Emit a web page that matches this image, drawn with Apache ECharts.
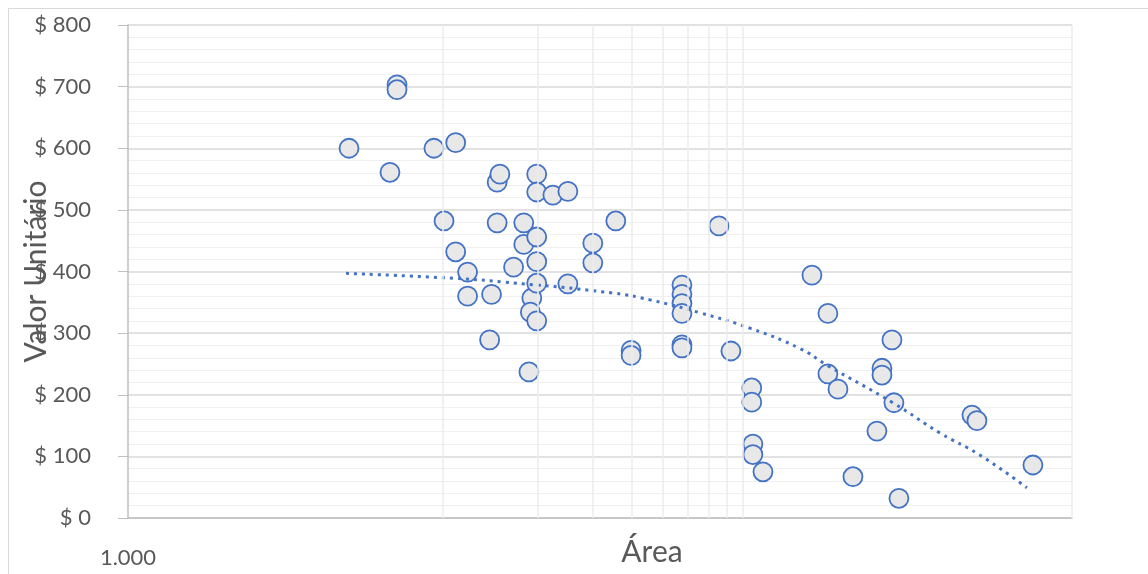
<!DOCTYPE html>
<html style="height: 100%">
<head>
    <meta charset="utf-8">
    <title>Valor Unitário x Área</title>
    <script src="https://cdn.jsdelivr.net/npm/echarts@6/dist/echarts.min.js"></script>
</head>
<body style="height: 100%; margin: 0; background: #fff">
<div id="main" style="width: 1148px; height: 574px"></div>
<script type="text/javascript">
    // pontos observados: área (log) e valor unitário
    var areas = [5040, 6800, 7160, 7160, 9380, 11000, 10100, 11000, 12000, 12000,
        14100, 14300, 14900, 15200, 14900, 16800, 18100, 18100, 18800, 19200,
        19000, 19900, 19900, 19900, 19900, 19900, 19900, 22400, 25000, 25000,
        30000, 30000, 35500, 39700, 39700, 57600, 57600, 57600, 57600, 57600,
        57600, 75500, 82400, 96000, 96000, 96800, 96800, 104200, 149100, 167600,
        167600, 180400, 201300, 239900, 248900, 248900, 267800, 271700, 281800, 480800,
        498700, 751200];
    var valores = [600, 561, 703, 695, 600, 609, 482, 432, 399, 360,
        289, 363, 545, 558, 479, 407, 479, 444, 237, 357,
        334, 558, 529, 456, 416, 381, 320, 524, 530, 380,
        446, 414, 482, 272, 264, 378, 363, 348, 332, 281,
        276, 474, 271, 211, 188, 120, 103, 75, 394, 332,
        234, 209, 67, 141, 243, 232, 289, 187, 32, 167,
        158, 86];

    // linha de tendência
    var trendAreas = [4930, 10780, 15550, 34770, 45580, 65700, 94700, 136600, 166400, 269700, 380400, 509900, 718900];
    var trendValores = [397, 389, 383, 365, 354, 333, 308, 275, 248, 187, 138, 102, 49];

    // linhas verticais de grade que aparecem no original
    var gradeX = [10000, 20000, 30000, 40000, 50000, 60000, 70000, 80000, 90000, 1000000];

    var pontos = [];
    for (var i = 0; i < areas.length; i++) {
        pontos.push([areas[i], valores[i]]);
    }
    var tendencia = [];
    for (var j = 0; j < trendAreas.length; j++) {
        tendencia.push([trendAreas[j], trendValores[j]]);
    }
    var linhasGrade = gradeX.map(function (v) {
        return { xAxis: v };
    });

    var myChart = echarts.init(document.getElementById('main'));
    var fonte = 'Lato, "Open Sans", sans-serif';
    var option = {
        animation: false,
        backgroundColor: '#fff',
        textStyle: { fontFamily: fonte },
        graphic: [{
            type: 'rect',
            shape: { x: 8.5, y: 8.5, width: 1200, height: 600 },
            style: { fill: 'none', stroke: '#d9d9d9', lineWidth: 1 },
            silent: true
        }],
        grid: { left: 128, right: 76, top: 25, bottom: 56, containLabel: false, outerBoundsMode: 'none' },
        xAxis: {
            type: 'log',
            logBase: 10,
            min: 1000,
            max: 1000000,
            name: 'Área',
            nameLocation: 'middle',
            nameGap: 19,
            nameMoveOverlap: false,
            nameTextStyle: { fontSize: 30, color: '#595959', padding: [0, 0, 0, 104], fontFamily: fonte },
            axisLine: { lineStyle: { color: '#bfbfbf', width: 1.5 } },
            axisTick: { show: false },
            axisLabel: {
                margin: 29,
                fontSize: 22,
                color: '#595959',
                formatter: function (v) {
                    return v === 1000 ? '1.000' : '';
                }
            },
            splitLine: { show: false }
        },
        yAxis: {
            type: 'value',
            min: 0,
            max: 800,
            interval: 100,
            name: 'Valor Unitário',
            nameLocation: 'middle',
            nameGap: 77,
            nameMoveOverlap: false,
            nameTextStyle: { fontSize: 30, color: '#595959', fontFamily: fonte },
            axisLine: { show: true, lineStyle: { color: '#bfbfbf', width: 1.5 } },
            axisTick: { show: true, length: 10, lineStyle: { color: '#bfbfbf' } },
            axisLabel: {
                fontSize: 22,
                color: '#595959',
                margin: 37,
                formatter: function (v) {
                    return '$ ' + v;
                }
            },
            splitLine: { lineStyle: { color: '#d9d9d9', width: 1.5 } },
            minorTick: { show: false, splitNumber: 5 },
            minorSplitLine: { show: true, lineStyle: { color: '#f0f0f0', width: 1 } }
        },
        series: [{
            type: 'scatter',
            data: [],
            z: 1,
            silent: true,
            markLine: {
                silent: true,
                symbol: 'none',
                label: { show: false },
                lineStyle: { color: '#ececec', width: 1.5, type: 'solid' },
                data: linhasGrade
            }
        }, {
            name: 'Valor Unitário',
            type: 'scatter',
            data: pontos,
            symbol: 'circle',
            symbolSize: 19,
            itemStyle: { color: '#e8e8e8', borderColor: '#4472c4', borderWidth: 1.8, opacity: 1 }
        }, {
            name: 'Tendência',
            type: 'line',
            data: tendencia,
            smooth: true,
            showSymbol: false,
            lineStyle: { color: '#4472c4', width: 3, type: [3, 5] }
        }]
    };
    myChart.setOption(option);
</script>
</body>
</html>
